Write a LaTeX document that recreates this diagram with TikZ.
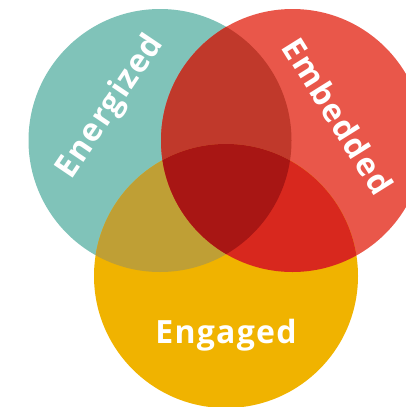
\documentclass[tikz,border=0pt]{standalone}
\usepackage{fontspec}
\setsansfont{Open Sans}[LetterSpace=4]
\definecolor{tealc}{HTML}{80C3B9}
\definecolor{redc}{HTML}{E9574A}
\definecolor{yellowc}{HTML}{F0B300}
\definecolor{tealred}{HTML}{C0392B}
\definecolor{tealyellow}{HTML}{BF9F35}
\definecolor{redyellow}{HTML}{D8281E}
\definecolor{allthree}{HTML}{A81614}
\tikzstyle{ring}=[circle,draw=none,minimum size=263pt,inner sep=0pt]
\tikzstyle{word}=[text=white,inner sep=0pt,font=\sffamily\bfseries\fontsize{32}{32}\selectfont]

\begin{document}
\begin{tikzpicture}[x=1pt,y=-1pt]
\useasboundingbox (0,0) rectangle (405,407);
\node[ring,fill=tealc] (energized) at (160,140.5) {};
\node[ring,fill=redc] (embedded) at (292.5,140.5) {};
\node[ring,fill=yellowc,minimum size=264pt] (engaged) at (226,276) {};
\begin{scope}
  \clip (energized.center) circle (131.5pt);
  \fill[tealred] (embedded.center) circle (131.5pt);
  \fill[tealyellow] (engaged.center) circle (132pt);
\end{scope}
\begin{scope}
  \clip (embedded.center) circle (131.5pt);
  \fill[redyellow] (engaged.center) circle (132pt);
  \clip (energized.center) circle (131.5pt);
  \fill[allthree] (engaged.center) circle (132pt);
\end{scope}
\node[word,rotate=56] (energizedtxt) at (111,107) {Energized};
\node[word,rotate=-58] (embeddedtxt) at (338,116) {Embedded};
\node[word,anchor=base] (engagedtxt) at (226,343) {Engaged};
\end{tikzpicture}
\end{document}
